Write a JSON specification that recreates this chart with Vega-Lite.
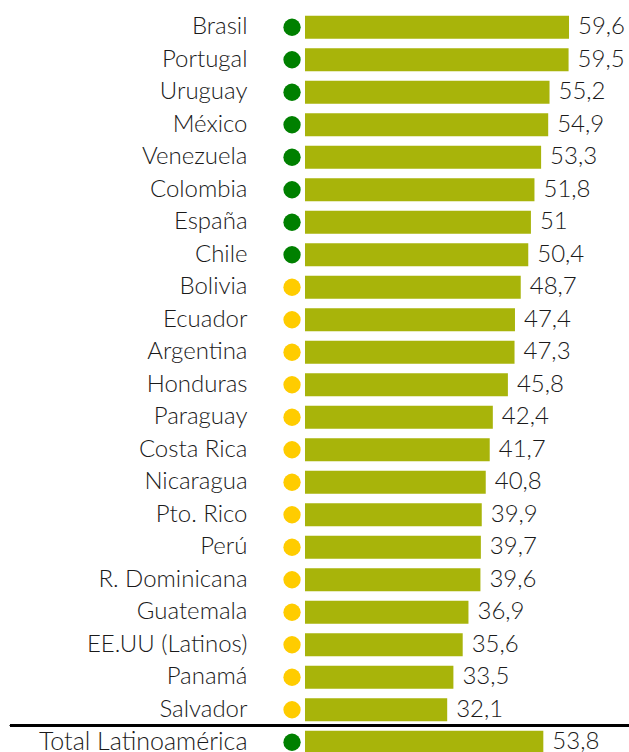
{
  "$schema": "https://vega.github.io/schema/vega-lite/v6.json",
  "autosize": {"type": "none"},
  "padding": {"left": 305, "top": 11, "right": 0, "bottom": 0},
  "width": 324,
  "height": {"step": 32.5},
  "config": {
    "view": {"stroke": null},
    "font": "Lato",
    "text": {"font": "Lato"}
  },
  "data": {
    "values": [
      {"pais": "Brasil", "valor": 59.6, "nivel": "alto"},
      {"pais": "Portugal", "valor": 59.5, "nivel": "alto"},
      {"pais": "Uruguay", "valor": 55.2, "nivel": "alto"},
      {"pais": "México", "valor": 54.9, "nivel": "alto"},
      {"pais": "Venezuela", "valor": 53.3, "nivel": "alto"},
      {"pais": "Colombia", "valor": 51.8, "nivel": "alto"},
      {"pais": "España", "valor": 51, "nivel": "alto"},
      {"pais": "Chile", "valor": 50.4, "nivel": "alto"},
      {"pais": "Bolivia", "valor": 48.7, "nivel": "medio"},
      {"pais": "Ecuador", "valor": 47.4, "nivel": "medio"},
      {"pais": "Argentina", "valor": 47.3, "nivel": "medio"},
      {"pais": "Honduras", "valor": 45.8, "nivel": "medio"},
      {"pais": "Paraguay", "valor": 42.4, "nivel": "medio"},
      {"pais": "Costa Rica", "valor": 41.7, "nivel": "medio"},
      {"pais": "Nicaragua", "valor": 40.8, "nivel": "medio"},
      {"pais": "Pto. Rico", "valor": 39.9, "nivel": "medio"},
      {"pais": "Perú", "valor": 39.7, "nivel": "medio"},
      {"pais": "R. Dominicana", "valor": 39.6, "nivel": "medio"},
      {"pais": "Guatemala", "valor": 36.9, "nivel": "medio"},
      {"pais": "EE.UU (Latinos)", "valor": 35.6, "nivel": "medio"},
      {"pais": "Panamá", "valor": 33.5, "nivel": "medio"},
      {"pais": "Salvador", "valor": 32.1, "nivel": "medio"},
      {"pais": "Total Latinoamérica", "valor": 53.8, "nivel": "alto"}
    ]
  },
  "transform": [
    {"calculate": "replace(toString(datum.valor), '.', ',')", "as": "etiqueta"}
  ],
  "encoding": {
    "y": {
      "field": "pais",
      "type": "nominal",
      "sort": null,
      "scale": {"paddingInner": 0.292, "paddingOuter": 0.146},
      "axis": {
        "title": null,
        "domain": false,
        "ticks": false,
        "labelPadding": 58,
        "labelFont": "Lato",
        "labelFontWeight": 300,
        "labelFontSize": {"condition": {"test": "datum.label == 'Total Latinoamérica'", "value": 25}, "value": 24},
        "labelColor": "#1a1a1a",
        "labelLimit": 400
      }
    }
  },
  "layer": [
    {
      "mark": {"type": "bar", "color": "#A8B40A", "clip": false},
      "encoding": {
        "x": {"field": "valor", "type": "quantitative", "scale": {"domain": [0, 73.14], "nice": false, "zero": true}, "axis": null}
      }
    },
    {
      "mark": {"type": "point", "filled": true, "opacity": 1, "size": 300, "shape": "circle"},
      "encoding": {
        "x": {"datum": -2.93, "type": "quantitative"},
        "color": {"field": "nivel", "type": "nominal", "scale": {"domain": ["alto", "medio"], "range": ["#008000", "#FFCC00"]}, "legend": null}
      }
    },
    {
      "mark": {"type": "text", "align": "left", "baseline": "middle", "dx": 9, "fontSize": 24, "fontWeight": 300, "color": "#1a1a1a"},
      "encoding": {
        "x": {"field": "valor", "type": "quantitative"},
        "text": {"field": "etiqueta"}
      }
    },
    {
      "mark": {"type": "rule", "color": "#000000", "strokeWidth": 2},
      "encoding": {
        "y": {"datum": "Total Latinoamérica", "bandPosition": -0.24},
        "x": {"datum": -66.6, "type": "quantitative"},
        "x2": {"datum": 73.14}
      }
    }
  ]
}
